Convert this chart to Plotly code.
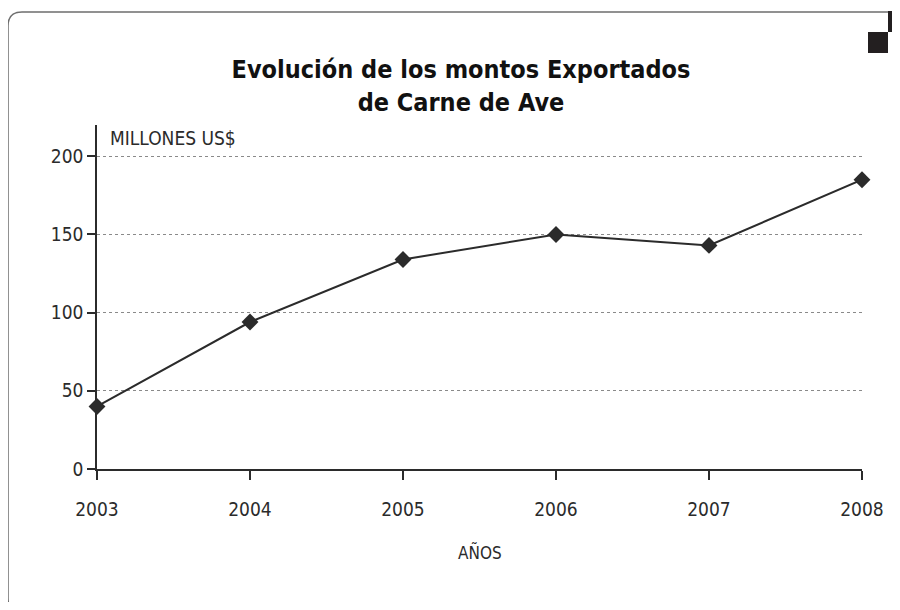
import plotly.graph_objects as go

# ─── Data ─────────────────────────────────────────────────────────────────────

years = [2003, 2004, 2005, 2006, 2007, 2008]
montos = [40, 94, 134, 150, 143, 185]
y_ticks = [0, 50, 100, 150, 200]

TITLE = "<b>Evolución de los montos Exportados<br>de Carne de Ave</b>"
Y_LABEL = "MILLONES US$"
X_LABEL = "AÑOS"

# ─── Theme ────────────────────────────────────────────────────────────────────

# page offset: the html body has an 8px margin, so work in page pixels
OFF = 8
W, H = 900 - OFF, 610 - 2 * OFF
L, R, T = 97 - OFF, W - (862 - OFF), 125 - OFF
B = H - (469 - OFF)
_FONT = "DejaVu Sans Condensed, Liberation Sans Narrow, sans-serif"
_INK = "#2b2b2b"
_FRAME = "#6e6e6e"


def px_x(x):
    return (x - OFF - L) / (W - L - R)


def px_y(y):
    return (H - B - (y - OFF)) / (H - T - B)


def font(size, color=_INK):
    return dict(family=_FONT, size=size, color=color)


fig = go.Figure(
    go.Scatter(
        x=years, y=montos,
        mode="lines+markers",
        line=dict(color=_INK, width=2),
        marker=dict(symbol="diamond", size=13, color=_INK),
        cliponaxis=False,
        showlegend=False,
    )
)

# rounded frame (top-left & bottom-left corners) plus corner squares
r = 14
frame_path = (
    f"M {px_x(888)},{px_y(12)} L {px_x(8 + r)},{px_y(12)} "
    f"Q {px_x(8)},{px_y(12)} {px_x(8)},{px_y(12 + r)} "
    f"L {px_x(8)},{px_y(598)} Q {px_x(8)},{px_y(606)} {px_x(13)},{px_y(612)}"
)
shapes = [
    dict(type="path", path=frame_path, xref="paper", yref="paper",
         line=dict(color=_FRAME, width=1.5)),
    dict(type="rect", xref="paper", yref="paper",
         x0=px_x(888), x1=px_x(901), y0=px_y(11), y1=px_y(32),
         fillcolor="#231f20", line=dict(width=0)),
    dict(type="rect", xref="paper", yref="paper",
         x0=px_x(868), x1=px_x(888), y0=px_y(32), y1=px_y(53),
         fillcolor="#231f20", line=dict(width=0)),
]

fig.update_layout(
    width=W, height=H,
    margin=dict(l=L, r=R, t=T, b=B),
    paper_bgcolor="white",
    plot_bgcolor="white",
    font=font(18),
    title=dict(
        text=TITLE, xref="container", x=(461 - OFF) / W, xanchor="center",
        yref="container", y=1 - (78 - OFF) / H, yanchor="middle",
        font=font(25, "#111111"),
    ),
    shapes=shapes,
    annotations=[
        dict(text=Y_LABEL, xref="paper", yref="paper", x=px_x(108), y=px_y(138),
             xanchor="left", yanchor="middle", showarrow=False, font=font(19)),
        dict(text=X_LABEL, xref="paper", yref="paper", x=0.5, y=px_y(552),
             xanchor="center", yanchor="middle", showarrow=False, font=font(17)),
    ],
)

fig.update_xaxes(
    range=[2003, 2008],
    tickvals=years,
    ticks="outside", ticklen=9, tickwidth=1.5, tickcolor=_INK,
    showline=True, linecolor=_INK, linewidth=1.5,
    showgrid=False, zeroline=False,
    tickfont=font(19),
    ticklabelstandoff=13,
)
fig.update_yaxes(
    range=[0, 220],
    tickvals=y_ticks,
    ticks="outside", ticklen=8, tickwidth=1.5, tickcolor=_INK,
    showline=True, linecolor=_INK, linewidth=1.5,
    showgrid=True, gridcolor="#8a8a8a", gridwidth=1, griddash="dot",
    zeroline=False,
    tickfont=font(19),
    ticklabelstandoff=0,
)

fig.write_html("out.html")
